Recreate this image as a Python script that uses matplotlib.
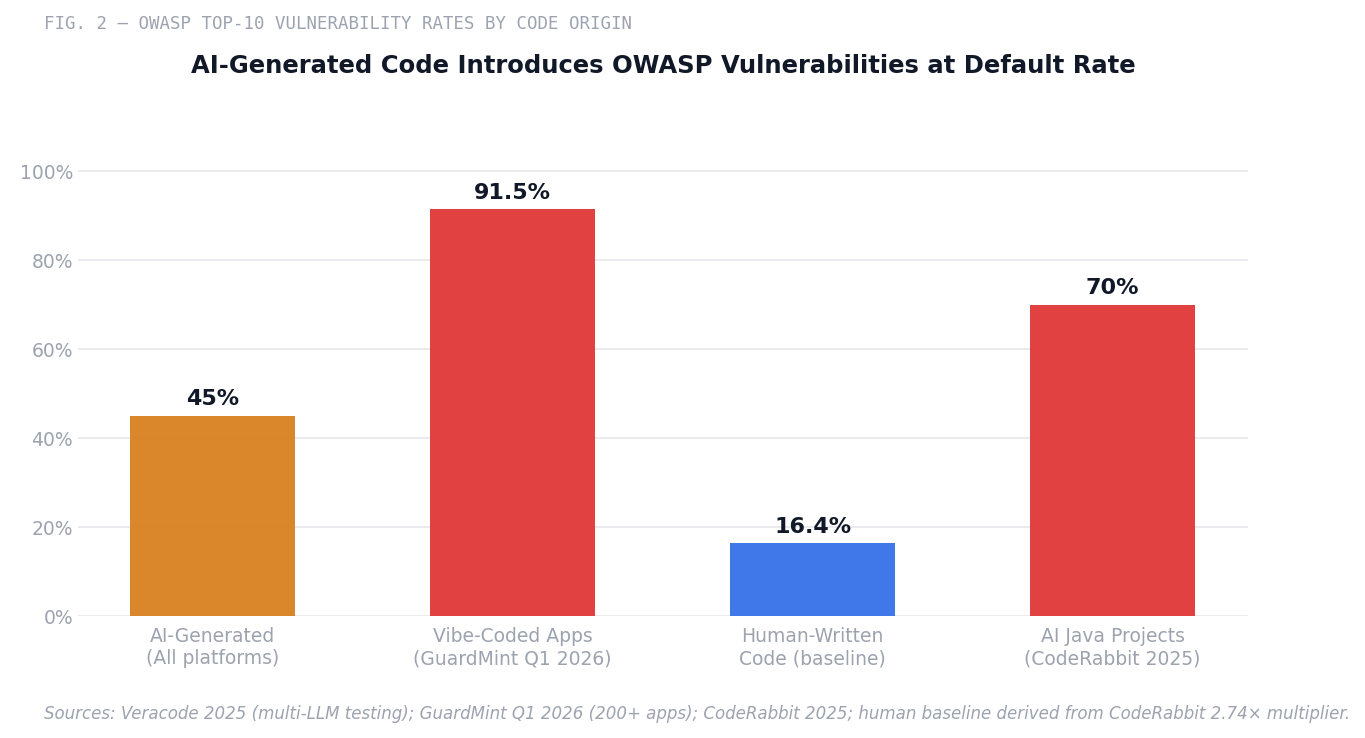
import matplotlib.pyplot as plt

categories = ["AI-Generated\n(All platforms)", "Vibe-Coded Apps\n(GuardMint Q1 2026)",
              "Human-Written\nCode (baseline)", "AI Java Projects\n(CodeRabbit 2025)"]
values = [45, 91.5, 16.4, 70]
labels = ["45%", "91.5%", "16.4%", "70%"]
colors = ["#d98324", "#e03b3b", "#3b74e9", "#e03b3b"]
yticks = [0, 20, 40, 60, 80, 100]

fig = plt.figure(figsize=(13.65, 7.38), dpi=100)
ax = fig.add_axes([0.057, 0.165, 0.857, 0.663])
x = range(len(values))
ax.bar(x, values, width=0.55, color=colors, alpha=0.97, zorder=3)
for i, (v, lab) in enumerate(zip(values, labels)):
    ax.text(i, v + 1.5, lab, ha='center', va='bottom', fontsize=16,
            fontweight='bold', color='#111827')
ax.set_xlim(-0.45, 3.45)
ax.set_ylim(0, 110)
ax.set_yticks(yticks)
ax.set_yticklabels([f"{t}%" for t in yticks])
ax.set_xticks(list(x))
ax.set_xticklabels(categories)
ax.tick_params(axis='both', colors='#9ca3af', labelsize=13.5, length=0)
ax.tick_params(axis='x', pad=8)
ax.grid(axis='y', color='#e5e7eb', linewidth=1.2, zorder=0)
for s in ax.spines.values():
    s.set_visible(False)

fig.text(0.032, 0.967, "FIG. 2 — OWASP TOP-10 VULNERABILITY RATES BY CODE ORIGIN",
         family='DejaVu Sans Mono', fontsize=12.5, color='#9ca3af', va='center')
fig.text(0.486, 0.91, "AI-Generated Code Introduces OWASP Vulnerabilities at Default Rate",
         ha='center', va='center', fontsize=17.5, fontweight='bold', color='#111827')
fig.text(0.032, 0.033, "Sources: Veracode 2025 (multi-LLM testing); GuardMint Q1 2026 (200+ apps); "
         "CodeRabbit 2025; human baseline derived from CodeRabbit 2.74× multiplier.",
         fontsize=12, style='italic', color='#9ca3af', va='center')
fig.savefig("out.png", dpi=100, facecolor='white')
